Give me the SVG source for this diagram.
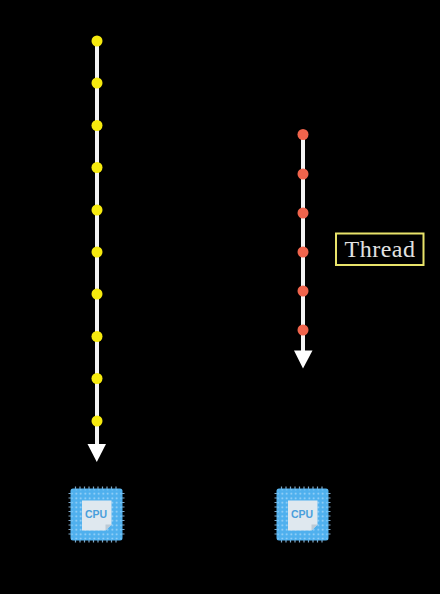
<svg xmlns="http://www.w3.org/2000/svg" width="440" height="594" viewBox="0 0 440 594">
<style>
.line{stroke:#f4f4f4;stroke-width:4;fill:none}
.head{fill:#fff}
.y{fill:#f6ea0e}
.r{fill:#f0644c}
.body{fill:#4fb0ee}
.pin{stroke:#7fa8c8;stroke-width:1.200;fill:none}
.core{fill:#dfe8ef}
.fold{fill:#bccad6}
.cpu{font:700 10.500px "Liberation Sans",Arial,sans-serif;fill:#4a9fdc;text-anchor:middle}
.label{font:24px "Liberation Serif","Times New Roman",serif;letter-spacing:.5px;fill:#e2e2e2;text-anchor:middle}
</style>
<defs>
<pattern id="holes" width="4.500" height="4.500" patternUnits="userSpaceOnUse" x="72" y="490">
<circle cx="2.250" cy="2.250" r="0.9" fill="#a9dafa"/>
</pattern>
<g id="chipBase">
<path class="pin" d="M-21-28v56M-16.500-28v56M-12-28v56M-7.500-28v56M-3-28v56M1.500-28v56M6-28v56M10.500-28v56M15-28v56M19.500-28v56M-28-21h56M-28-16.500h56M-28-12h56M-28-7.500h56M-28-3h56M-28 1.500h56M-28 6h56M-28 10.500h56M-28 15h56M-28 19.500h56"/>
<rect class="body" x="-26" y="-26" width="52" height="52" rx="2.500"/>
<rect x="-25" y="-25" width="50" height="50" fill="url(#holes)"/>
<path class="core" d="M-14.500-14H15V10L9 16H-14.500Z"/>
<path class="fold" d="M15 10L9 16V10Z"/>
</g>
</defs>
<rect width="440" height="594" fill="#000"/>
<g id="connectors">
<path class="line" d="M97 41V446"/>
<path class="head" d="M87.500 444H106L96.800 462Z"/>
<path class="line" d="M303 134V352"/>
<path class="head" d="M294 350.500H312.500L303 368.500Z"/>
</g>
<g id="thread-a">
<circle class="y" cx="97" cy="41" r="5.500"/>
<circle class="y" cx="97" cy="83" r="5.500"/>
<circle class="y" cx="97" cy="125.500" r="5.500"/>
<circle class="y" cx="97" cy="167.500" r="5.500"/>
<circle class="y" cx="97" cy="210" r="5.500"/>
<circle class="y" cx="97" cy="252" r="5.500"/>
<circle class="y" cx="97" cy="294" r="5.500"/>
<circle class="y" cx="97" cy="336.500" r="5.500"/>
<circle class="y" cx="97" cy="378.500" r="5.500"/>
<circle class="y" cx="97" cy="421" r="5.500"/>
</g>
<g id="thread-b">
<circle class="r" cx="303" cy="134.500" r="5.500"/>
<circle class="r" cx="303" cy="174" r="5.500"/>
<circle class="r" cx="303" cy="213" r="5.500"/>
<circle class="r" cx="303" cy="252" r="5.500"/>
<circle class="r" cx="303" cy="291" r="5.500"/>
<circle class="r" cx="303" cy="330" r="5.500"/>
</g>
<g id="thread-label">
<rect x="336" y="233.500" width="87.500" height="31.500" fill="none" stroke="#e8e36a" stroke-width="2"/>
<text class="label" x="380" y="257">Thread</text>
</g>
<g id="cpu-a">
<use href="#chipBase" transform="translate(96.500 514.500)"/>
<text class="cpu" x="96" y="517.500">CPU</text>
</g>
<g id="cpu-b">
<use href="#chipBase" transform="translate(302.500 514.500)"/>
<text class="cpu" x="302" y="517.500">CPU</text>
</g>
</svg>
